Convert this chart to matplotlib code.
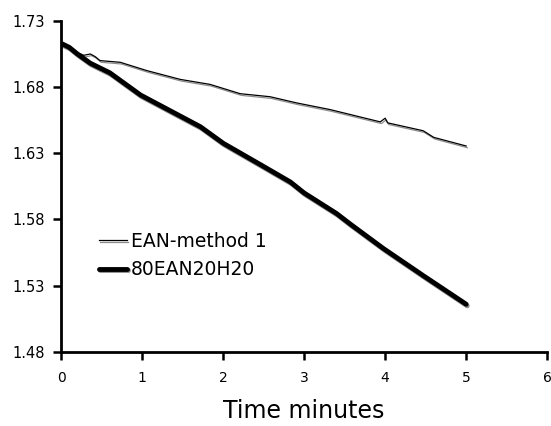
import matplotlib
matplotlib.use("Agg")
import matplotlib.pyplot as plt
import matplotlib.patheffects as pe

# datos
t_ean = [0, 0.1, 0.2, 0.28, 0.36, 0.42, 0.48, 0.73, 1.06, 1.47, 1.84, 2.21, 2.58, 2.91, 3.32, 3.94, 4.0, 4.03, 4.47, 4.6, 5.0]
y_ean = [1.714, 1.710, 1.706, 1.704, 1.705, 1.703, 1.700, 1.6987, 1.6924, 1.6858, 1.682, 1.675, 1.6727, 1.668, 1.663, 1.6537, 1.6565, 1.653, 1.647, 1.642, 1.6355]

t_h2o = [0, 0.1, 0.2, 0.36, 0.6, 0.98, 1.35, 1.72, 2.0, 2.54, 2.83, 3.0, 3.4, 3.57, 3.98, 4.47, 5.0]
y_h2o = [1.713, 1.710, 1.705, 1.698, 1.6908, 1.674, 1.662, 1.650, 1.6376, 1.6186, 1.6083, 1.600, 1.5845, 1.5765, 1.558, 1.5376, 1.516]

fig = plt.figure(figsize=(5.51, 4.26), dpi=100)
ax = fig.add_axes([0.111, 0.174, 0.882, 0.777])

sombra = [pe.SimpleLineShadow(offset=(0.8, -1.2), shadow_color="gray", alpha=0.9), pe.Normal()]
ax.plot(t_ean, y_ean, color="black", linewidth=0.9, label="EAN-method 1", path_effects=sombra)
ax.plot(t_h2o, y_h2o, color="black", linewidth=3.5, label="80EAN20H20",
        solid_capstyle="round", path_effects=sombra)

ax.set_xlim(0, 6)
ax.set_ylim(1.48, 1.73)
ax.set_xticks([0, 1, 2, 3, 4, 5, 6])
ax.set_yticks([1.48, 1.53, 1.58, 1.63, 1.68, 1.73])
ax.set_yticklabels(["1.48", "1.53", "1.58", "1.63", "1.68", "1.73"])
ax.tick_params(direction="out", length=6, width=1.8)
ax.tick_params(axis="x", labelsize=10, pad=8)
ax.tick_params(axis="y", labelsize=10.5, pad=6)
for s in ["top", "right"]:
    ax.spines[s].set_visible(False)
for s in ["left", "bottom"]:
    ax.spines[s].set_linewidth(2)

ax.set_xlabel("Time minutes", fontsize=17, labelpad=10)
ax.legend(loc="upper left", bbox_to_anchor=(0.062, 0.385), frameon=False, fontsize=13.5,
          handlelength=1.5, handletextpad=0.2, labelspacing=0.5, borderaxespad=0)

plt.savefig("out.png", dpi=100)
